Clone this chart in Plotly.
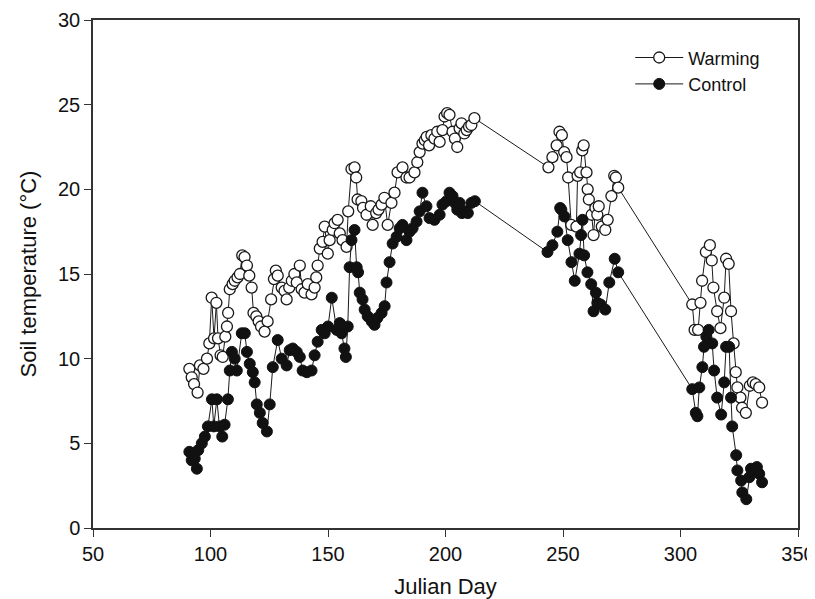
import plotly.graph_objects as go

# Warming (open circles)
warm_day = [91, 92, 93, 94.5, 95.5, 97, 98.5, 99.5, 100.5, 101.5, 102.5, 103.2, 104.3, 105.2, 106.3, 107, 107.5,
            108.2, 109.4, 110.3, 111.5, 112.5, 113.5, 114.5, 115.5, 116.5, 117.5, 118.3, 119.5, 120.5, 121.5, 123,
            124.3, 125.8, 127, 127.8, 128.6, 130.3, 131.5, 132.4, 133.5, 134.6, 135.7, 136.7, 138, 138.8, 140,
            141.4, 143, 144.3, 145, 145.6, 146.5, 147.7, 148.6, 149.9, 150.7, 152, 152.8, 154.1, 155, 156.2,
            157.9, 158.6, 160, 161.3, 162, 162.6, 164.2, 164.9, 166.4, 168.2, 169, 170.5, 171.5, 172.8, 174,
            175.4, 177, 178.3, 179.6, 181.7, 183.4, 184.7, 186.8, 188, 189, 190.2, 191.2, 192, 193, 194, 195.3,
            196.5, 197.5, 198.7, 199.6, 200.7, 201.7, 203, 204, 205, 206, 206.8, 208, 209, 210, 211, 212.3,
            243.8, 245.5, 247.3, 248.5, 249.5, 250.5, 251.5, 252.2, 253.5, 255.7, 256.2, 257.3, 258.2, 258.8,
            260, 260.5, 261, 262.2, 263, 263.8, 264.6, 265.2, 266.5, 268, 269, 270.6, 271.8, 272.5, 273.5,
            305, 306, 307.5, 308.5, 309.2, 310.8, 312.5, 313.3, 314, 315.6, 317, 318.6, 319.4, 320.5, 321.5,
            322.6, 323.5, 324.2, 325.5, 326.2, 327.8, 329.5, 330.8, 332, 333.5, 334.7]
warm_temp = [9.4, 8.9, 8.5, 8.0, 9.6, 9.4, 10.0, 10.9, 13.6, 11.2, 13.3, 11.2, 10.2, 10.1, 11.3, 11.9, 12.7,
             14.1, 14.4, 14.6, 14.8, 15.0, 16.1, 16.0, 15.5, 14.9, 14.2, 12.7, 12.5, 12.2, 11.9, 11.6,
             12.2, 13.5, 14.7, 15.2, 14.9, 14.2, 14.0, 13.5, 14.2, 14.6, 15.0, 14.5, 15.5, 14.1, 13.9,
             14.4, 13.8, 14.2, 14.8, 15.5, 16.5, 16.9, 17.8, 16.2, 17.0, 17.6, 18.0, 18.2, 17.4, 17.0,
             16.6, 18.7, 21.2, 21.3, 20.7, 19.4, 19.3, 18.9, 18.5, 19.0, 17.9, 18.6, 18.8, 19.1, 19.5,
             17.9, 19.2, 19.8, 21.0, 21.3, 20.7, 20.7, 21.0, 21.6, 22.2, 22.7, 22.9, 23.1, 22.6, 23.2, 23.0,
             23.4, 22.8, 23.5, 24.3, 24.5, 24.4, 23.4, 23.0, 22.5, 23.6, 23.9, 23.3, 23.5, 23.7, 23.8, 24.2,
             21.3, 21.9, 22.6, 23.4, 23.2, 22.2, 21.9, 20.7, 17.9, 17.8, 20.8, 21.0, 22.3, 22.6,
             21.0, 20.0, 19.4, 18.5, 17.3, 18.9, 18.5, 19.0, 17.8, 17.6, 18.2, 19.6, 20.8, 20.7, 20.1,
             13.2, 11.7, 11.7, 13.3, 14.6, 16.3, 16.7, 15.8, 14.2, 12.8, 11.8, 13.6, 15.9, 15.6, 12.8,
             10.9, 9.2, 8.3, 7.7, 7.1, 6.8, 8.4, 8.6, 8.5, 8.3, 7.4]

# Control (filled circles)
ctrl_day = [91, 92, 93.3, 94.2, 94.8, 96.3, 97.6, 98.9, 100.6, 101.4, 102.7, 103.8, 105, 106, 107.4, 108.2,
            109.1, 110.3, 111.2, 113.3, 114.6, 115.5, 116.7, 118, 118.8, 119.7, 121, 122.2, 124, 125.2, 126.5,
            128.6, 130.3, 132.4, 133.7, 135, 136.7, 138, 139.2, 141, 143, 144.3, 145.6, 147.3, 148.6, 150,
            151.6, 153.7, 155, 155.8, 157, 157.6, 158.4, 159.2, 160, 161.3, 162.2, 162.8, 163.5, 164.7, 165.6,
            166.9, 168.6, 169.8, 171, 172.8, 174.1, 174.9, 176.2, 177.5, 179.2, 180.5, 181.7, 183.4, 184.7,
            186, 187.7, 189, 190.2, 191.9, 193.2, 195.3, 197.5, 198.7, 200.4, 201.7, 203, 204, 205, 206, 207,
            208.5, 209.5, 211, 212.5,
            243.4, 245.5, 247.6, 248.8, 249.3, 250.6, 252, 253.6, 255, 257, 257.7, 258.3, 259, 260.4, 262,
            263, 264, 264.6, 266, 268, 269.7, 272, 273.5,
            305, 306.5, 307.2, 308, 309.3, 310, 311, 312, 313.5, 314.3, 315.6, 317.3, 318.6, 319.4, 320.7,
            321.5, 322, 323.7, 324.2, 325.8, 326.3, 328, 329.3, 330, 331.3, 332.5, 333.5, 334.7]
ctrl_temp = [4.5, 4.0, 4.1, 3.5, 4.6, 5.0, 5.4, 6.0, 7.6, 6.0, 7.6, 6.0, 5.4, 6.1, 7.6, 9.3,
             10.4, 10.0, 9.3, 11.5, 11.5, 10.4, 9.7, 9.2, 8.6, 7.3, 6.8, 6.2, 5.7, 7.3, 9.5,
             11.1, 10.0, 9.6, 10.5, 10.6, 10.4, 10.1, 9.3, 9.2, 9.3, 10.2, 11.0, 11.7, 11.5, 11.9,
             13.6, 11.7, 12.1, 11.5, 10.6, 10.1, 11.9, 15.4, 17.0, 17.6, 15.4, 15.1, 13.9, 13.5, 12.9,
             12.5, 12.2, 12.0, 12.4, 12.7, 13.1, 14.5, 15.7, 16.8, 17.2, 17.7, 17.9, 17.0, 17.5,
             17.7, 18.1, 18.7, 19.8, 19.0, 18.3, 18.2, 18.5, 19.1, 19.3, 19.8, 19.6, 19.2, 18.8, 19.2, 18.6,
             18.7, 18.6, 19.2, 19.3,
             16.3, 16.7, 17.5, 18.9, 18.8, 18.4, 17.0, 15.7, 14.6, 16.2, 17.3, 18.2, 16.1, 15.1, 14.4,
             12.8, 13.9, 13.3, 13.2, 12.9, 14.5, 15.9, 15.1,
             8.2, 6.8, 6.6, 8.3, 9.5, 10.7, 11.3, 11.7, 10.9, 9.3, 7.7, 6.7, 8.6, 10.7, 10.7,
             7.7, 6.0, 4.3, 3.4, 2.8, 2.1, 1.7, 3.0, 3.5, 3.4, 3.6, 3.2, 2.7]

x_ticks = [50, 100, 150, 200, 250, 300, 350]
y_ticks = [0, 5, 10, 15, 20, 25, 30]

FONT = "Liberation Sans, Arial, sans-serif"

fig = go.Figure()
fig.add_trace(go.Scatter(
    x=warm_day, y=warm_temp, mode="lines+markers", name="Warming",
    line=dict(color="#1a1a1a", width=1),
    marker=dict(symbol="circle", size=11, color="white", line=dict(color="#1a1a1a", width=1.3)),
))
fig.add_trace(go.Scatter(
    x=ctrl_day, y=ctrl_temp, mode="lines+markers", name="Control",
    line=dict(color="#1a1a1a", width=1),
    marker=dict(symbol="circle", size=11, color="#111111", line=dict(color="#111111", width=1)),
))

axis_common = dict(
    showgrid=False, zeroline=False, showline=True, linecolor="#333333", linewidth=1.5,
    mirror=True, ticks="outside", ticklen=7, tickwidth=1.3, tickcolor="#333333",
    tickfont=dict(family=FONT, size=20, color="#111111"), automargin=False,
)

fig.update_layout(
    width=807, height=591,
    margin=dict(l=85, r=17, t=12, b=71),
    paper_bgcolor="white", plot_bgcolor="white",
    font=dict(family=FONT, color="#111111"),
    showlegend=True,
    legend=dict(x=0.762, y=0.962, xanchor="left", yanchor="top",
                font=dict(family=FONT, size=18, color="#111111"),
                bgcolor="rgba(0,0,0,0)", tracegroupgap=0, itemwidth=48),
    xaxis=dict(range=[50, 350], tickvals=x_ticks, ticktext=[str(v) for v in x_ticks],
               title=dict(text="Julian Day", font=dict(family=FONT, size=22)),
               **axis_common),
    yaxis=dict(range=[0, 30], tickvals=y_ticks, ticktext=[str(v) for v in y_ticks],
               title=dict(text="Soil temperature (°C)", font=dict(family=FONT, size=22)),
               **axis_common),
)

fig.write_html("out.html")
